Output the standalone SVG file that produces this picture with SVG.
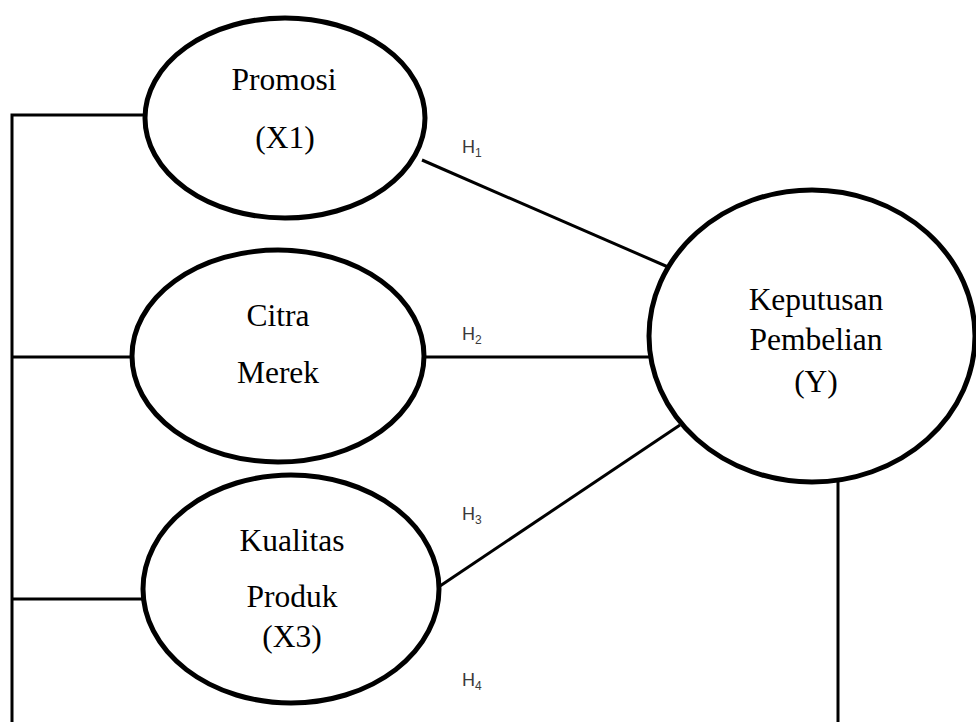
<svg xmlns="http://www.w3.org/2000/svg" width="976" height="722" viewBox="0 0 976 722">
<style>
.node ellipse{fill:#fff;stroke:#000;stroke-width:5}
.lbl{font-family:"Liberation Serif","Times New Roman",serif;font-size:31.5px;fill:#000;text-anchor:middle}
.h{font-family:"Liberation Sans",Arial,sans-serif;font-size:18px;fill:#3a3a3a}
.h tspan{font-size:12px}
#connectors line,#connectors polyline{stroke:#000;stroke-width:3;fill:none}
</style>
<rect width="976" height="722" fill="#fff"/>
<g id="connectors">
<polyline points="145,115 12,115 12,722"/>
<line x1="12" y1="357" x2="132" y2="357"/>
<line x1="12" y1="599" x2="143" y2="599"/>
<line x1="422" y1="160" x2="675" y2="270"/>
<line x1="425" y1="357" x2="650" y2="357"/>
<line x1="440" y1="586" x2="680" y2="425"/>
<line x1="838" y1="482" x2="838" y2="722"/>
</g>
<g id="promosi" class="node">
<ellipse cx="285" cy="118" rx="140" ry="100"/>
<text class="lbl" x="284" y="90">Promosi</text>
<text class="lbl" x="285" y="148">(X1)</text>
</g>
<g id="citra" class="node">
<ellipse cx="278" cy="356" rx="146" ry="106"/>
<text class="lbl" x="278" y="326">Citra</text>
<text class="lbl" x="278" y="383">Merek</text>
</g>
<g id="kualitas" class="node">
<ellipse cx="291" cy="589" rx="148" ry="114"/>
<text class="lbl" x="292" y="551">Kualitas</text>
<text class="lbl" x="292" y="607">Produk</text>
<text class="lbl" x="292" y="647">(X3)</text>
</g>
<g id="keputusan" class="node">
<ellipse cx="812" cy="336" rx="163" ry="146"/>
<text class="lbl" x="816" y="310">Keputusan</text>
<text class="lbl" x="816" y="350">Pembelian</text>
<text class="lbl" x="816" y="392">(Y)</text>
</g>
<g id="labels">
<text class="h" x="462" y="153">H<tspan dy="4">1</tspan></text>
<text class="h" x="462" y="340">H<tspan dy="4">2</tspan></text>
<text class="h" x="462" y="520">H<tspan dy="4">3</tspan></text>
<text class="h" x="462" y="686">H<tspan dy="4">4</tspan></text>
</g>
</svg>
